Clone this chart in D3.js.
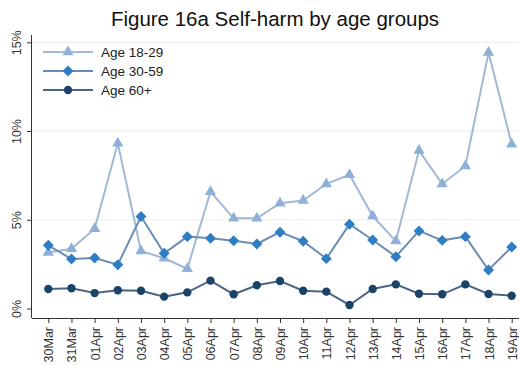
<!DOCTYPE html>
<html>
<head>
<meta charset="utf-8">
<script src="https://cdn.jsdelivr.net/npm/d3@7"></script>
<style>
  html, body { margin: 0; padding: 0; background: #fff; }
  svg { display: block; font-family: "Liberation Sans", Arial, sans-serif; }
</style>
</head>
<body>
<svg id="chart" width="519" height="365"></svg>
<script>
// Daily dates on the x axis
const dates = ["30Mar","31Mar","01Apr","02Apr","03Apr","04Apr","05Apr","06Apr","07Apr","08Apr",
  "09Apr","10Apr","11Apr","12Apr","13Apr","14Apr","15Apr","16Apr","17Apr","18Apr","19Apr"];

// Share of contacts mentioning self-harm (%), by age group
const age18_29 = [3.15,3.37,4.50,9.31,3.24,2.83,2.24,6.58,5.08,5.08,5.93,6.08,7.02,7.53,5.21,3.80,8.90,7.02,8.03,14.42,9.26];
const age30_59 = [3.56,2.79,2.85,2.47,5.18,3.11,4.05,3.96,3.82,3.64,4.30,3.79,2.81,4.75,3.86,2.92,4.37,3.84,4.05,2.17,3.47];
const age60plus = [1.10,1.14,0.87,1.03,1.00,0.67,0.91,1.57,0.80,1.31,1.55,1.00,0.95,0.20,1.10,1.36,0.83,0.80,1.36,0.82,0.72];

const yTicks = [0, 5, 10, 15];
const seriesNames = ["Age 18-29", "Age 30-59", "Age 60+"];

// Marker shapes: triangle, diamond (square turned 45°), circle
const series = [
  { name: seriesNames[0], values: age18_29, line: "#a2b9d6", fill: "#8fb0d9", shape: d3.symbolTriangle, size: 55, rot: 0 },
  { name: seriesNames[1], values: age30_59, line: "#6a8db6", fill: "#2f7dc3", shape: d3.symbolSquare, size: 60, rot: 45 },
  { name: seriesNames[2], values: age60plus, line: "#4b6583", fill: "#1b4367", shape: d3.symbolCircle, size: 55, rot: 0 }
];

const svg = d3.select("#chart");
const plotLeft = 32, plotRight = 519, plotTop = 35, plotBottom = 318;

const x = d3.scalePoint().domain(dates).range([48.3, 511.7]);
const y = d3.scaleLinear().domain([0, 15]).range([308.5, 42.3]);

// Title
svg.append("text")
  .attr("x", 275).attr("y", 26)
  .attr("text-anchor", "middle")
  .attr("font-size", 20.5)
  .attr("fill", "#111")
  .text("Figure 16a Self-harm by age groups");

// Horizontal gridlines
svg.append("g").selectAll("line")
  .data(yTicks.filter(d => d > 0))
  .join("line")
  .attr("x1", plotLeft).attr("x2", plotRight)
  .attr("y1", d => y(d)).attr("y2", d => y(d))
  .attr("stroke", "#ececec").attr("stroke-width", 1);

// Y axis
const yAxis = svg.append("g")
  .attr("transform", `translate(${plotLeft},0)`)
  .call(d3.axisLeft(y).tickValues(yTicks).tickFormat(d => d + "%").tickSize(5).tickPadding(4));
yAxis.select(".domain").attr("d", `M-0.5,${plotTop}V${plotBottom}`).attr("stroke", "#333");
yAxis.selectAll(".tick line").attr("stroke", "#333");
yAxis.selectAll(".tick text")
  .attr("font-size", 12.5).attr("fill", "#333")
  .attr("text-anchor", "middle")
  .attr("x", 0).attr("y", 0).attr("dy", null)
  .attr("transform", "translate(-11,0) rotate(-90)");

// X axis
const xAxis = svg.append("g")
  .attr("transform", `translate(0,${plotBottom})`)
  .call(d3.axisBottom(x).tickSize(5).tickPadding(3));
xAxis.select(".domain").attr("d", `M${plotLeft},0.5H${plotRight}`).attr("stroke", "#333");
xAxis.selectAll(".tick line").attr("stroke", "#333");
xAxis.selectAll(".tick text")
  .attr("font-size", 12.5).attr("fill", "#333")
  .attr("text-anchor", "end")
  .attr("dy", null)
  .attr("y", 0)
  .attr("transform", "translate(4.5,9) rotate(-90)");

// Lines and markers
const lineGen = d3.line().x((d, i) => x(dates[i])).y(d => y(d));

series.forEach(s => {
  svg.append("path")
    .datum(s.values)
    .attr("d", lineGen)
    .attr("fill", "none")
    .attr("stroke", s.line)
    .attr("stroke-width", 2);
});
series.forEach(s => {
  svg.append("g").selectAll("path")
    .data(s.values)
    .join("path")
    .attr("transform", (d, i) => `translate(${x(dates[i])},${y(d)}) rotate(${s.rot})`)
    .attr("d", d3.symbol().type(s.shape).size(s.size))
    .attr("fill", s.fill);
});

// Legend
const legend = svg.append("g");
series.forEach((s, i) => {
  const ly = 52 + i * 19;
  legend.append("line")
    .attr("x1", 43).attr("x2", 93)
    .attr("y1", ly).attr("y2", ly)
    .attr("stroke", s.line).attr("stroke-width", 2);
  legend.append("path")
    .attr("transform", `translate(68,${ly}) rotate(${s.rot})`)
    .attr("d", d3.symbol().type(s.shape).size(s.size))
    .attr("fill", s.fill);
  legend.append("text")
    .attr("x", 101).attr("y", ly + 4.5)
    .attr("font-size", 13.5)
    .attr("fill", "#222")
    .text(s.name);
});
</script>
</body>
</html>
